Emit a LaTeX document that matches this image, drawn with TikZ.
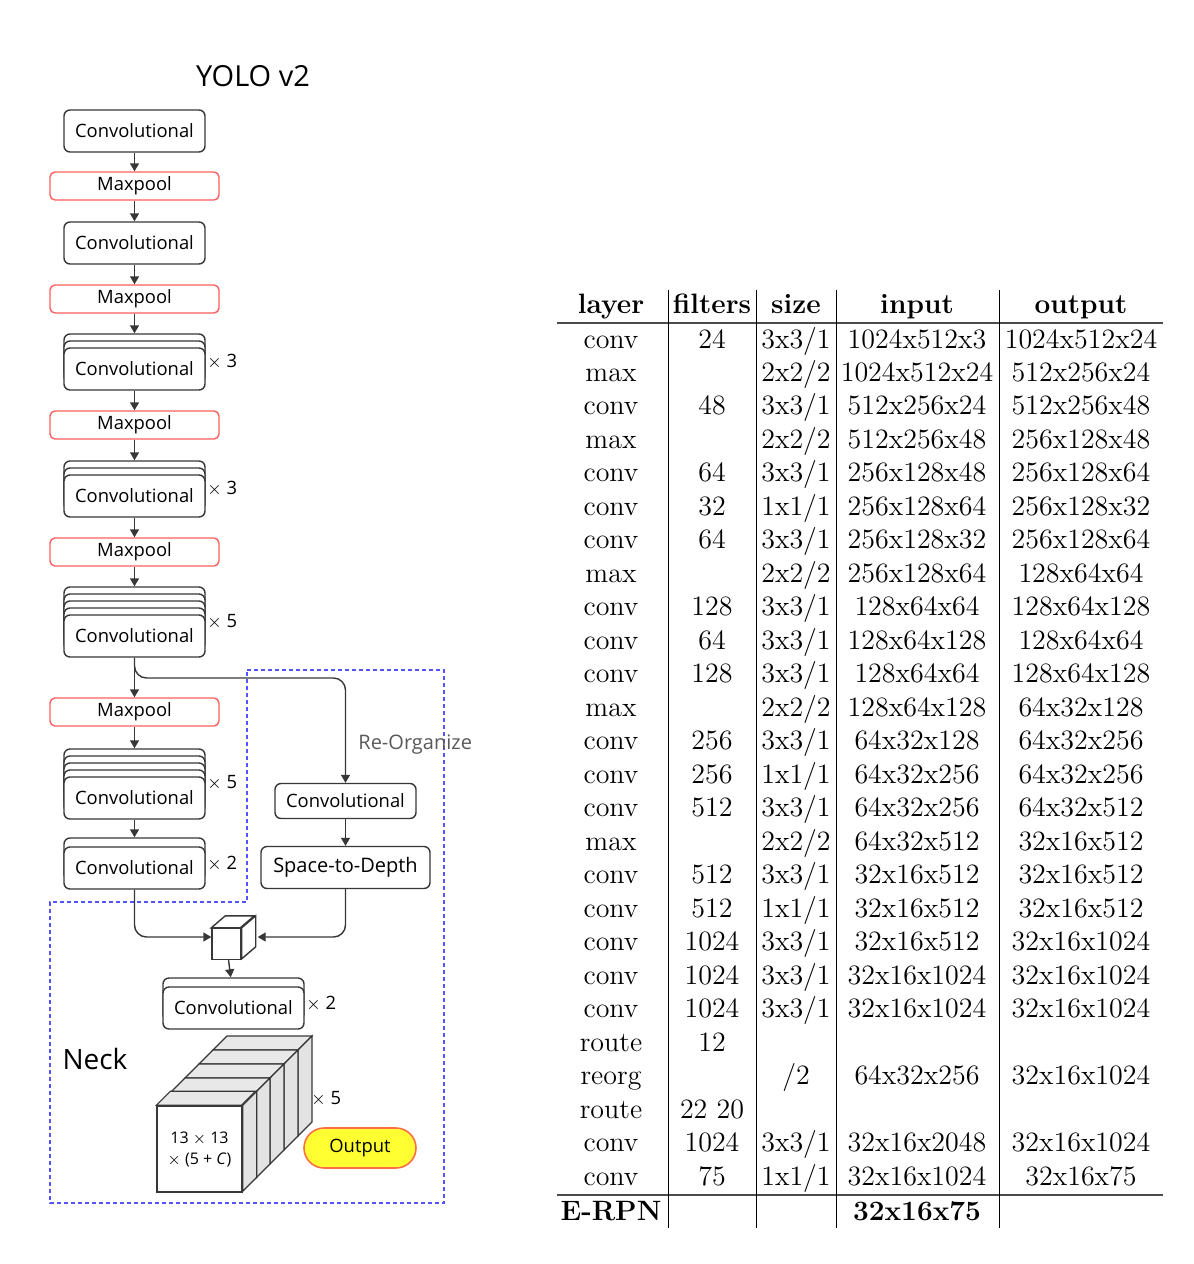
\documentclass[tikz,border=0pt]{standalone}
\usepackage{fontspec}
\newfontfamily\diafont{Open Sans}
\usetikzlibrary{arrows.meta}
\definecolor{boxline}{RGB}{55,55,55}
\definecolor{poolred}{RGB}{255,95,95}
\definecolor{neckblue}{RGB}{85,85,255}
\definecolor{outfill}{RGB}{255,255,50}
\definecolor{outline}{RGB}{255,110,70}
\begin{document}
\begin{tikzpicture}[
    x=0.5pt, y=-0.5pt,
    every node/.style={font=\diafont\fontsize{9.2}{11}\selectfont},
    conv/.style={rectangle, draw=boxline, fill=white, line width=0.7pt, rounded corners=3pt, inner sep=0pt, minimum width=70.5pt, minimum height=21pt},
    pool/.style={rectangle, draw=poolred, fill=white, line width=0.7pt, rounded corners=2.5pt, inner sep=0pt, minimum width=84.5pt, minimum height=14pt},
    times/.style={anchor=west, inner sep=0pt},
    arrow/.style={-{Triangle[length=4pt,width=4.5pt]}, draw=boxline, line width=0.7pt},
    neck/.style={draw=neckblue, line width=0.7pt, dash pattern=on 2pt off 1.5pt},
    tab/.style={font=\rmfamily\fontsize{14}{16}\selectfont, inner sep=0pt, anchor=base},
    head/.style={tab, font=\rmfamily\bfseries\fontsize{14}{16}\selectfont}
]
    \useasboundingbox (0,0) rectangle (1194,1264);

    % Neck region
    \draw[neck] (247,670) -- (444,670) -- (444,1203) -- (50,1203) -- (50,902) -- (247,902) -- cycle;

    % Backbone
    \node[font=\diafont\fontsize{14.5}{17}\selectfont] (title) at (253,76) {YOLO v2};
    \node[conv] (conv1) at (134.5,131) {Convolutional};
    \node[pool] (pool1) at (134.5,186) {Maxpool};
    \node[conv] (conv2) at (134.5,243) {Convolutional};
    \node[pool] (pool2) at (134.5,299) {Maxpool};
    \foreach \d [count=\k] in {14,7}
        \node[conv] (conv3-\k) at (134.5,369-\d) {};
    \node[conv] (conv3) at (134.5,369) {Convolutional};
    \node[times] at (207,362) {$\times$ 3};
    \node[pool] (pool3) at (134.5,425) {Maxpool};
    \foreach \d [count=\k] in {14,7}
        \node[conv] (conv4-\k) at (134.5,496-\d) {};
    \node[conv] (conv4) at (134.5,496) {Convolutional};
    \node[times] at (207,489) {$\times$ 3};
    \node[pool] (pool4) at (134.5,552) {Maxpool};
    \foreach \d [count=\k] in {28,21,14,7}
        \node[conv] (conv5-\k) at (134.5,636-\d) {};
    \node[conv] (conv5) at (134.5,636) {Convolutional};
    \node[times] at (207,622) {$\times$ 5};
    \node[pool] (pool5) at (134.5,712) {Maxpool};
    \foreach \d [count=\k] in {28,21,14,7}
        \node[conv] (conv6-\k) at (134.5,798-\d) {};
    \node[conv] (conv6) at (134.5,798) {Convolutional};
    \node[times] at (207,783) {$\times$ 5};
    \node[conv] (conv7-1) at (134.5,859) {};
    \node[conv] (conv7) at (134.5,868) {Convolutional};
    \node[times] at (207,864) {$\times$ 2};

    % Re-organize branch
    \node[conv, minimum height=17.5pt] (convR) at (345.5,801) {Convolutional};
    \node[conv, minimum width=84.5pt, font=\diafont\fontsize{10}{12}\selectfont] (s2d) at (345.5,867.5) {Space-to-Depth};
    \node[anchor=west, text=black!65, font=\diafont\fontsize{10}{12}\selectfont, inner sep=0pt] (reorg) at (358,745) {Re-Organize};
    \coordinate (split) at (345.5,678);

    % Concatenation cube
    \node[rectangle, draw=boxline, fill=white, line width=0.7pt, minimum width=14.5pt, minimum height=15.5pt, inner sep=0pt] (cube) at (226.5,944) {};
    \draw[boxline, fill=white, line width=0.7pt] (cube.north west) -- ++(14,-12) -- ++(29,0) -- ++(-14,12) -- cycle;
    \draw[boxline, fill=white, line width=0.7pt] (cube.north east) -- ++(14,-12) -- ++(0,31) -- ++(-14,12) -- cycle;

    % Head
    \node[conv] (conv8-1) at (233.5,999) {};
    \node[conv] (conv8) at (233.5,1008) {Convolutional};
    \node[times] at (306,1004) {$\times$ 2};
    \node[font=\diafont\fontsize{14}{17}\selectfont] (neckname) at (95,1059) {Neck};
    \foreach \k in {4,...,1} {
        \draw[boxline, fill=black!9, line width=0.6pt] (157+14*\k,1106-14*\k) -- ++(14,-14) -- ++(85,0) -- ++(-14,14) -- cycle;
        \draw[boxline, fill=black!11, line width=0.6pt] (242+14*\k,1106-14*\k) -- ++(14,-14) -- ++(0,86) -- ++(-14,14) -- cycle;
    }
    \node[rectangle, draw=boxline, fill=white, line width=0.7pt, minimum width=42.5pt, minimum height=43pt, inner sep=0pt, align=center, font=\diafont\fontsize{8}{10.5}\selectfont] (grid) at (199.5,1149) {13 $\times$ 13\\$\times$ (5 + \textit{C})};
    \draw[boxline, fill=black!9, line width=0.6pt] (grid.north west) -- ++(14,-14) -- ++(85,0) -- ++(-14,14) -- cycle;
    \draw[boxline, fill=black!11, line width=0.6pt] (grid.north east) -- ++(14,-14) -- ++(0,86) -- ++(-14,14) -- cycle;
    \node[times] at (311,1099) {$\times$ 5};
    \node[rectangle, draw=outline, fill=outfill, line width=0.8pt, rounded corners=10pt, minimum width=56pt, minimum height=20pt, inner sep=0pt] (output) at (360,1148) {Output};

    % Connections
    \draw[arrow] (conv1) -- (pool1);
    \draw[arrow] (pool1) -- (conv2);
    \draw[arrow] (conv2) -- (pool2);
    \draw[arrow] (pool2) -- (conv3-1);
    \draw[arrow] (conv3) -- (pool3);
    \draw[arrow] (pool3) -- (conv4-1);
    \draw[arrow] (conv4) -- (pool4);
    \draw[arrow] (pool4) -- (conv5-1);
    \draw[arrow] (conv5) -- (pool5);
    \draw[arrow] (pool5) -- (conv6-1);
    \draw[arrow] (conv6) -- (conv7-1);
    \draw[arrow, rounded corners=6pt] (conv5.south) |- (split) -- (convR);
    \draw[arrow] (convR) -- (s2d);
    \draw[arrow, rounded corners=6pt] (conv7.south) |- ([yshift=3.5pt]cube.west);
    \draw[arrow, rounded corners=6pt] (s2d.south) |- ([xshift=8pt,yshift=3.5pt]cube.east);
    \draw[arrow] (cube) -- (conv8-1);

    % Table
    \draw[line width=0.6pt, black!70] (557,323) -- (1163,323);
    \draw[line width=0.6pt, black!70] (557,1195) -- (1163,1195);
    \foreach \cx in {668,756,836,999}
        \draw[line width=0.5pt] (\cx,290) -- (\cx,1228);
    \node[head] (hlayer) at (611,313) {layer};
    \node[head] (hfilters) at (712,313) {filters};
    \node[head] (hsize) at (796,313) {size};
    \node[head] (hinput) at (917,313) {input};
    \node[head] (houtput) at (1081,313) {output};
    \foreach \lay/\fil/\siz/\inp/\outp [count=\r] in {
        conv/24/{3x3/1}/1024x512x3/1024x512x24,
        max/{}/{2x2/2}/1024x512x24/512x256x24,
        conv/48/{3x3/1}/512x256x24/512x256x48,
        max/{}/{2x2/2}/512x256x48/256x128x48,
        conv/64/{3x3/1}/256x128x48/256x128x64,
        conv/32/{1x1/1}/256x128x64/256x128x32,
        conv/64/{3x3/1}/256x128x32/256x128x64,
        max/{}/{2x2/2}/256x128x64/128x64x64,
        conv/128/{3x3/1}/128x64x64/128x64x128,
        conv/64/{3x3/1}/128x64x128/128x64x64,
        conv/128/{3x3/1}/128x64x64/128x64x128,
        max/{}/{2x2/2}/128x64x128/64x32x128,
        conv/256/{3x3/1}/64x32x128/64x32x256,
        conv/256/{1x1/1}/64x32x256/64x32x256,
        conv/512/{3x3/1}/64x32x256/64x32x512,
        max/{}/{2x2/2}/64x32x512/32x16x512,
        conv/512/{3x3/1}/32x16x512/32x16x512,
        conv/512/{1x1/1}/32x16x512/32x16x512,
        conv/1024/{3x3/1}/32x16x512/32x16x1024,
        conv/1024/{3x3/1}/32x16x1024/32x16x1024,
        conv/1024/{3x3/1}/32x16x1024/32x16x1024,
        route/12/{}/{}/{},
        reorg/{}/{/2}/64x32x256/32x16x1024,
        route/{22 20}/{}/{}/{},
        conv/1024/{3x3/1}/32x16x2048/32x16x1024,
        conv/75/{1x1/1}/32x16x1024/32x16x75} {
        \node[tab] (lay\r) at (611,{348+33.48*(\r-1)}) {\lay};
        \node[tab] (fil\r) at (712,{348+33.48*(\r-1)}) {\fil};
        \node[tab] (siz\r) at (796,{348+33.48*(\r-1)}) {\siz};
        \node[tab] (inp\r) at (917,{348+33.48*(\r-1)}) {\inp};
        \node[tab] (out\r) at (1081,{348+33.48*(\r-1)}) {\outp};
    }
    \node[head] (erpn) at (611,1220) {E-RPN};
    \node[head] (erpnin) at (917,1220) {32x16x75};
\end{tikzpicture}
\end{document}
